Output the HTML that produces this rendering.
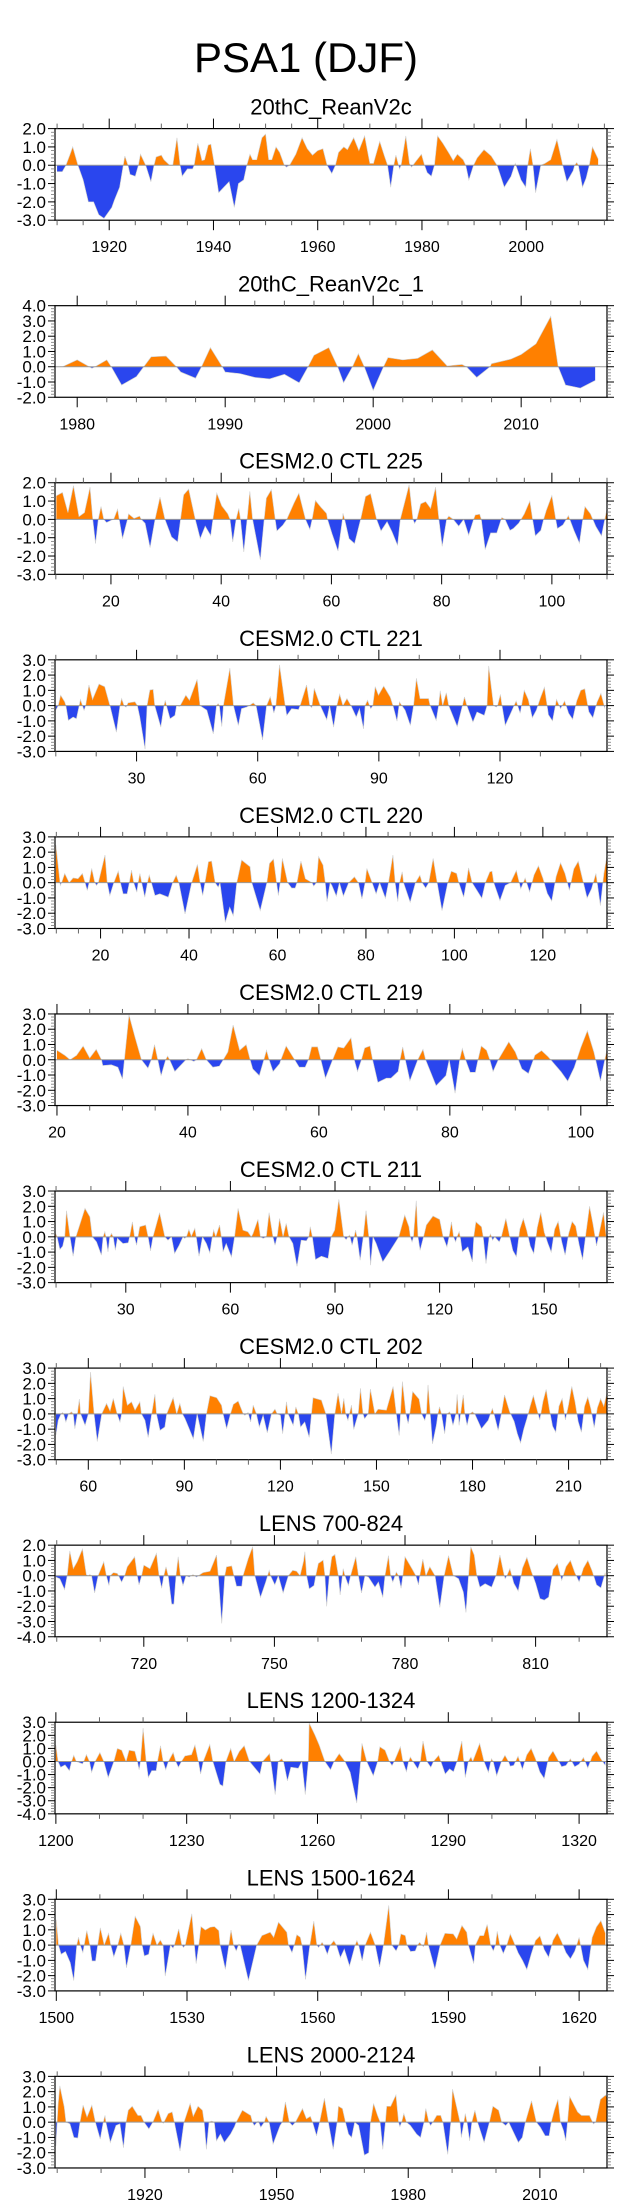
<!DOCTYPE html>
<html><head><meta charset="utf-8"><title>PSA1 (DJF)</title>
<style>
html,body{margin:0;padding:0;background:#fff;}
svg{display:block;font-family:"Liberation Sans",Arial,sans-serif;}
</style></head>
<body>
<svg id="fig" width="623" height="2209" viewBox="0 0 623 2209" xmlns="http://www.w3.org/2000/svg">
<text x="306" y="72" font-size="42" text-anchor="middle">PSA1 (DJF)</text>
</svg>
<script>
const panelTitles=["20thC_ReanV2c","20thC_ReanV2c_1","CESM2.0 CTL 225","CESM2.0 CTL 221","CESM2.0 CTL 220","CESM2.0 CTL 219","CESM2.0 CTL 211","CESM2.0 CTL 202","LENS 700-824","LENS 1200-1324","LENS 1500-1624","LENS 2000-2124"];
const xRanges=[[1909.6,2015.5],[1978.5,2015.8],[9.85,110],[9.8,146.5],[9.7,134.5],[19.7,104],[9.7,168],[49.6,222],[699.6,826.4],[1199.8,1326.4],[1499.7,1626.4],[1899.5,2025.3]];
const yRanges=[[-3,2],[-2,4],[-3,2],[-3,3],[-3,3],[-3,3],[-3,3],[-3,3],[-4,2],[-4,3],[-3,3],[-3,3]];
const xMajorSteps=[20,10,20,30,20,20,30,30,30,30,30,30];
const xMinorSteps=[5,2,5,10,5,5,10,10,10,10,10,10];

const s1=[[1910,-0.35],[1911,-0.35],[1911.7,0],[1912.5,0.6],[1913,1.0],[1914,0],[1915,-0.8],[1916,-2.0],[1917,-2.0],[1918,-2.7],[1919,-2.9],[1920.5,-2.3],[1921,-1.9],[1922,-1.2],[1922.7,0],[1923,0.5],[1923.6,0],[1924,-0.5],[1925,-0.6],[1925.6,0],[1926,0.6],[1927,0],[1928,-0.9],[1928.6,0],[1929,0.45],[1930,0.55],[1930.5,0.3],[1931.6,0],[1932.2,0],[1933,1.5],[1933.6,0],[1934,-0.6],[1935,-0.2],[1936,-0.2],[1936.3,0],[1937,1.2],[1937.8,0.25],[1938.3,0.3],[1939,1.1],[1939.5,1.15],[1940.2,0],[1941,-1.5],[1942,-1.2],[1943,-0.9],[1944,-2.3],[1944.8,-1.0],[1945.8,-0.8],[1946.4,0],[1947,0.6],[1947.5,0.3],[1948.3,0.3],[1949.3,1.5],[1950,1.7],[1950.6,0.3],[1951.2,0.3],[1952,1.0],[1952.7,0.7],[1953.6,0],[1954,-0.1],[1954.6,0],[1955.8,0.6],[1957,1.5],[1958,0.9],[1959,0.55],[1960,0.8],[1961,0.9],[1961.8,0],[1962.7,-0.45],[1963.4,0],[1964,0.7],[1965,1.0],[1965.7,0.85],[1966.9,1.5],[1967.9,0.8],[1969,1.6],[1970,0.1],[1970.7,0.1],[1971.9,1.3],[1972.8,0.5],[1973.4,0],[1974,-1.2],[1974.6,0],[1975,0.55],[1975.7,-0.2],[1976,0],[1976.9,1.6],[1977.6,0.1],[1978,-0.1],[1978.8,0.2],[1979.9,0.6],[1980.5,0],[1981,-0.4],[1981.8,-0.6],[1982.4,0],[1983,1.6],[1984,1.2],[1985.3,0.6],[1986,0.25],[1986.8,0.6],[1987.9,0.3],[1988.4,0],[1989,-0.8],[1989.9,0],[1990.6,0.4],[1991.9,0.85],[1993.3,0.5],[1994.4,0],[1995.8,-1.2],[1997.1,-0.6],[1997.9,0.1],[1999,-0.8],[1999.9,-1.2],[2000.3,0],[2000.8,0.9],[2001.3,0],[2001.8,-1.5],[2002.8,0],[2003.6,0.1],[2004.7,0.3],[2005.9,1.4],[2006.7,0.4],[2007,0],[2007.8,-0.9],[2009,-0.3],[2009.3,0],[2009.7,0.15],[2010,0],[2010.8,-1.2],[2011.5,-0.7],[2012.1,0],[2012.7,1.0],[2013.8,0.35]];
const s2=[[1979,0],[1980,0.45],[1981,-0.1],[1981.2,0],[1982,0.45],[1982.3,0],[1983,-1.2],[1984,-0.65],[1984.5,0],[1985,0.65],[1986,0.7],[1986.7,0],[1987,-0.35],[1988,-0.75],[1988.4,0],[1989,1.25],[1989.8,0],[1990,-0.35],[1991,-0.45],[1992,-0.7],[1993,-0.8],[1994,-0.5],[1995,-1.05],[1995.6,0],[1996,0.75],[1997,1.25],[1997.6,0],[1998,-1.05],[1998.6,0],[1999,0.85],[1999.4,0],[2000,-1.55],[2000.7,0],[2001,0.6],[2002,0.45],[2003,0.55],[2004,1.1],[2005,0.05],[2006,0.15],[2006.3,0],[2007,-0.7],[2007.9,0],[2008,0.2],[2009.3,0.5],[2010,0.8],[2011,1.5],[2012,3.3],[2012.5,0],[2013,-1.2],[2014,-1.4],[2015,-0.9]];
const s3=[[10.1,1.29],[11.2,1.47],[12.2,0.37],[13.2,1.84],[14.2,0.15],[15.2,0.37],[16.2,1.76],[16.7,0],[17.2,-1.32],[17.7,0],[18.2,0.7],[18.7,0],[19.2,-0.17],[20.1,-0.04],[20.5,0],[21.2,0.55],[21.5,0],[22.1,-1.05],[23,0],[23.2,0.3],[24.2,0.05],[25.2,0.18],[25.5,0],[26.2,-0.22],[27.1,-1.54],[28,0],[28.9,1.21],[29.8,0],[31,-0.96],[32.1,-1.23],[33.2,1.34],[34.1,1.65],[35.3,0],[36.2,-1.05],[37.1,-0.37],[38.1,-0.88],[38.5,0],[39.2,1.43],[40.1,0.74],[41.2,0.3],[41.6,0],[42.1,-1.23],[42.7,0],[43.2,0.6],[43.5,0],[44.1,-1.78],[44.7,0],[45.2,1.53],[45.7,0],[47.1,-2.2],[47.8,0],[48.2,1.16],[49.1,1.62],[49.8,0],[50.1,-0.63],[51.2,-0.31],[51.9,0],[53.2,0.88],[54.1,1.43],[55.3,0],[56.1,-0.55],[56.5,0],[57.1,1.03],[58.1,0.66],[59.1,0.33],[59.3,0],[60.1,-0.77],[61.2,-1.73],[62,0],[62.1,0.33],[62.4,0],[63.2,-1.05],[64.2,-1.32],[65.3,0],[66.2,1.25],[67.1,1.4],[68.2,0],[69,-0.63],[70.1,-0.13],[71,-0.68],[72,-1.42],[72.5,0],[74.1,1.89],[74.8,0],[75.1,-0.22],[75.5,0],[76.2,0.85],[77.1,0.97],[78,0.6],[78.9,1.76],[79.5,0],[80.1,-1.47],[80.9,0],[81.3,0.18],[82.1,0],[83.1,-0.37],[84,0],[84.9,-0.86],[85.8,0],[86.1,0.24],[86.9,0.28],[87.2,0],[87.9,-1.65],[88.9,-0.74],[90,-0.74],[90.9,0.1],[91.5,0],[92.4,-0.6],[93,-0.5],[94,-0.2],[95,0.3],[96,1.0],[96.5,0],[97,-0.9],[98,-0.6],[98.5,0],[99,0.5],[100,1.3],[100.7,0],[101,-0.5],[102,-0.3],[103,0.2],[104,-0.6],[105,-1.3],[105.6,0],[106,0.7],[107,0.3],[108,-0.4],[109,-0.9],[110,0.6]];
const s4=[[10,-0.3],[10.6,0],[11.2,0.68],[12.2,0.25],[12.5,0],[13.1,-0.97],[14.3,-0.75],[15.1,-0.86],[15.8,0],[16.1,0.4],[16.6,0],[17,-0.3],[17.4,0],[18.2,1.35],[19.1,0.4],[20.7,1.41],[22.1,1.24],[23.4,0],[25,-1.74],[25.9,0],[26.3,0.46],[26.9,0],[27.4,-0.1],[27.9,0.18],[29.6,0.25],[30.2,0],[30.8,-0.75],[32.1,-2.85],[32.6,0],[33.3,1.02],[34.1,1.06],[34.5,0],[36,-1.41],[36.8,0],[37.1,0.35],[37.4,0],[38.3,-0.86],[39.5,-0.64],[39.9,0],[40.7,-0.05],[42.2,0.68],[43.1,0.35],[45,1.72],[45.7,0],[47.4,-0.3],[49,-1.85],[49.8,0],[50.2,0.13],[50.5,0],[51.1,-1.37],[51.5,0],[53.1,2.45],[54,0],[55.2,-1.3],[56,-0.2],[57.3,-0.09],[57.9,0],[58.9,0.18],[59.6,0],[61.2,-2.25],[62.2,0],[63.1,0.57],[63.6,0],[64,-0.49],[64.5,0],[65.4,2.67],[66.8,0],[67.2,-0.64],[68.4,-0.2],[70.1,-0.26],[70.5,0],[72.1,1.35],[72.9,0],[73.4,-0.13],[74,1.13],[75.5,0],[77.1,-0.93],[77.8,0],[78.8,-1.41],[79.6,0],[80.3,0.75],[81.1,0],[82.1,0.46],[83.1,0],[84.4,-0.75],[85.2,-0.2],[86.2,-1.52],[86.6,0],[87.2,0.35],[87.7,0],[88,-0.2],[88.5,0],[89.1,1.24],[89.9,0.68],[91.2,1.28],[92.8,0.57],[93.5,0],[94.5,-1.02],[95.1,0.24],[95.7,0],[96.5,-0.3],[97.8,-1.3],[98.6,0],[99.3,1.79],[100.2,0.46],[102.3,0.46],[102.7,0],[104.2,-0.97],[104.8,0],[105.2,0.97],[105.8,0],[106.7,0.84],[107.3,0],[109.4,-1.37],[110.7,0],[111.2,0.57],[111.8,0],[113.3,-1.08],[114.3,-0.42],[116.1,-0.64],[116.8,0],[117.2,2.6],[118.4,0],[119.1,-0.09],[119.4,0],[120.1,0.73],[120.5,0],[121.3,-1.3],[122.6,-0.53],[124,0.3],[125,-0.5],[126,1.0],[127,0.4],[128,-0.8],[129,-0.3],[130,0.5],[131,1.2],[132,-0.6],[133,-1.0],[134,0.4],[135,-0.2],[136,0.3],[137,-0.5],[138,-0.9],[139,0.3],[140,1.0],[141,1.1],[142,-0.4],[143,-0.8],[144,0.2],[145,0.8],[146,-0.2]];
const s5=[[9.9,2.47],[10.4,1.15],[10.9,-0.18],[11.2,0],[11.9,0.6],[12.9,0],[13.8,0.31],[14.9,0.26],[15.9,0.6],[16.5,0],[17,-0.51],[17.4,0],[18,0.93],[18.7,0],[19.1,-0.18],[19.5,0],[21,1.81],[21.5,0],[22.1,-0.84],[23,0],[24,0.75],[24.5,0],[25.1,-0.73],[26,-0.73],[26.5,0],[27,0.82],[27.5,0],[28.2,-0.62],[28.5,0],[28.9,0.6],[29.3,0],[30,-0.95],[30.6,0],[31,0.49],[31.5,0],[32.3,-0.84],[33.4,-0.73],[35.3,-0.95],[36.3,0],[37.1,0.49],[37.7,0],[39.1,-2.05],[40.6,0],[41.9,1.19],[42.5,0],[43.1,-0.84],[43.6,0],[44.4,1.37],[45.1,1.41],[45.9,0],[46.6,-0.29],[47,0],[48.2,-2.6],[49.2,-1.61],[50,-2.16],[50.8,0],[51.9,1.48],[53.8,1.04],[54.2,0],[56.1,-1.83],[57.6,0],[58.2,1.26],[59.1,1.55],[59.8,0],[60.2,-0.84],[60.6,0],[61.1,1.59],[62.3,0],[63.2,-0.35],[64,-0.35],[64.4,0],[65.3,1.41],[66.3,0.26],[67.8,0],[68.2,-0.22],[68.8,0],[69.3,1.7],[70.3,1.15],[70.8,0],[71.2,-1.24],[71.9,0],[72.3,-0.18],[73.3,-0.88],[74,0],[74.9,-0.88],[76.1,0],[77.4,0.38],[78.3,0],[79.1,-1.06],[79.8,0],[80.2,0.93],[81.4,0],[82.3,-0.73],[83.1,0],[84.4,-1.02],[85.1,0],[86.1,1.81],[86.6,0],[87.2,-1.24],[87.6,0],[88.2,0.71],[88.5,0],[90,-1.28],[91.2,0],[92.2,0.49],[92.7,0],[93.5,-0.35],[94.2,0],[95.2,1.59],[96.1,0],[97.2,-1.83],[98.5,0],[99.3,0.75],[100.5,0.6],[101,0],[102.1,-0.95],[102.7,0],[103.2,0.97],[104,0],[105.1,-0.51],[106.2,-1.02],[107,0],[108,0.71],[108.5,0.75],[108.9,0],[110.3,-1.17],[111.5,-0.18],[112.7,0],[114,0.8],[115,-0.4],[116,0.3],[117,-0.6],[118,0.5],[119,1.1],[120,0.3],[121,-0.7],[122,-1.2],[123,0.4],[124,1.3],[125,0.6],[126,-0.5],[127,0.9],[128,1.4],[129,0.2],[130,-1.0],[131,-0.4],[132,0.6],[133,-1.5],[133.8,0.6],[134.5,1.8]];
const s6=[[20,0.62],[21.2,0.29],[22,0],[23,0.29],[24,0.9],[25,0.11],[26,0.68],[26.8,0],[27,-0.38],[28.3,-0.33],[29.3,-0.49],[30,-1.26],[30.3,0],[31,2.94],[31.9,1.5],[32.9,0],[33.9,-0.55],[34.4,0],[34.9,0.99],[35.4,0],[35.9,-1.04],[36.6,0],[36.9,0.24],[37.2,0],[38,-0.77],[39.7,0],[40,0.07],[40.9,-0.11],[41.3,0],[42.1,0.73],[42.8,0],[43.8,-0.49],[44.8,-0.42],[45.4,0],[46.1,0.51],[46.9,2.27],[47.9,0.62],[48.9,0.99],[49.5,0],[49.9,-0.6],[50.9,-1.04],[51.6,0],[52,0.62],[52.4,0],[53,-0.77],[54,-0.26],[54.2,0],[55,0.9],[56.3,0],[57,-0.49],[57.9,-0.49],[58.4,0],[58.9,0.84],[59.8,0.84],[60.3,0],[61,-1.21],[62.1,0],[62.9,0.84],[63.8,0.77],[64.9,1.43],[65.4,0],[65.9,-0.77],[66.5,0],[67,0.77],[67.8,0.9],[68.2,0],[69,-1.48],[70.3,-1.21],[71,-1.21],[72.1,-0.77],[72.4,0],[72.8,0.84],[73.2,0],[73.9,-1.37],[75.1,0],[75.9,0.68],[76.3,0],[77.9,-1.7],[79.4,-1.04],[79.9,0],[80.8,-2.19],[81.5,0],[81.9,0.73],[82.4,0],[83.1,-0.82],[83.9,-0.82],[84.3,0],[84.8,0.9],[85.6,0.62],[86.1,0],[86.6,-0.77],[87.4,0],[89,1.17],[90,0.5],[91,-0.6],[92,-0.9],[93,0.3],[94,0.6],[95,0.2],[96,-0.3],[97,-0.8],[98,-1.4],[99,-0.5],[100,0.8],[101,1.9],[102,0.5],[103,-1.4],[104,0.7]];
const s7=[[9.9,0.22],[10.3,0],[11.1,-0.83],[11.9,-0.61],[12.5,0],[13,1.71],[14,0],[14.9,-1.27],[15.7,0],[18.3,1.86],[19.7,1.31],[20.4,0],[21.6,-0.33],[23,-1.2],[23.5,0],[24,0.33],[24.3,0],[24.9,-0.98],[25.4,0],[25.9,0.22],[26.4,0],[27,-0.88],[27.6,-0.1],[29.2,-0.44],[30.7,-0.39],[31.1,0],[31.9,0.98],[32.5,0],[33.1,-0.55],[33.5,0],[34,0.66],[35.7,0.77],[36.4,0],[37.1,-0.92],[37.8,0],[39.7,1.58],[41.2,0],[42.1,-0.22],[43.1,0],[44,-1.09],[45.3,-0.55],[46.4,0],[46.9,-0.1],[47.4,0],[48.1,0.48],[48.8,0.04],[49.8,0.55],[50.2,0],[51,-1.27],[52,0],[53.1,-0.44],[54.1,-1.05],[54.8,0],[55.2,0.44],[55.8,0],[56.9,0.77],[57.4,0],[57.9,-0.98],[58.8,-0.44],[60.3,-1.31],[61.2,0],[62.2,1.86],[63.6,0.44],[65,0.33],[66,0],[66.5,0.22],[67.9,1.14],[68.6,0],[69.4,-0.1],[70.3,0],[71.1,1.58],[72.2,0],[72.8,-0.55],[73.4,0],[74.1,1.2],[75.1,0],[76,0.88],[76.8,0],[77.9,-0.44],[79.1,-1.93],[80.3,-0.22],[81.8,-0.26],[82.5,0],[82.9,0.66],[83.5,0],[84.4,-1.49],[86.1,-1.27],[88,-1.42],[88.9,0],[89.9,0.44],[91.1,2.45],[92.5,0],[93.2,-0.18],[93.7,0],[94.2,0.11],[94.9,-0.55],[95.5,0],[95.9,0.44],[96.3,0],[97.2,-1.53],[98.1,0],[98.9,1.71],[99.7,0],[100.2,-1.86],[100.9,0],[101.8,-0.44],[103.7,-1.64],[105.6,-0.98],[107.4,-0.33],[108.3,0],[110,1.42],[111.2,0.66],[111.6,0],[112.1,-0.33],[112.5,0],[113.3,2.36],[113.8,0],[114.4,-0.88],[115.4,0],[116.2,0.77],[118.1,1.36],[120,1.14],[121,0],[122.1,-0.66],[122.7,0],[123.4,0.98],[124,0],[124.6,-0.33],[125,0],[125.6,0.33],[125.9,0],[126.5,-0.98],[128.1,-0.66],[129.4,-1.64],[129.8,0],[130.4,0.98],[132,0.66],[132.5,0],[133.3,-1.75],[134.2,0],[134.6,0.18],[135.2,-0.22],[135.8,0],[137.1,-0.33],[137.7,0],[139,1.2],[140,0.11],[141,-0.9],[142,-1.3],[143,0.5],[144,1.2],[145,0.4],[146,-0.6],[147,-1.1],[148,0.6],[149,1.6],[150,0.3],[151,-0.4],[152,-1.0],[153,0.5],[154,1.0],[155,-0.3],[156,-1.2],[157,0.2],[158,1.0],[159,0.7],[160,-0.5],[161,-1.5],[162,0.3],[163,2.0],[164,0.8],[165,-0.6],[166,0.5],[167,1.6],[168,-0.4]];
const s8=[[49.9,-1.37],[50.6,-0.42],[51.5,0],[52,0.09],[52.4,-0.09],[53,-0.53],[53.8,0],[54.8,0.13],[55.3,0],[55.8,-0.97],[56.6,0],[57.2,0.97],[57.6,0],[59,-0.75],[60,0],[60.7,2.74],[61.8,0],[62.8,-1.81],[64.2,0],[65.7,0.68],[66.8,0.18],[67.8,1.01],[69,0],[69.9,-0.53],[70.4,0],[70.9,1.79],[72.2,0.57],[73.5,0.79],[74.6,0.24],[76.1,0.79],[76.6,0],[77.7,-0.42],[78.7,-1.54],[79.8,0],[80.8,1.28],[81.3,0],[82.4,-1.08],[83.9,-0.86],[84.5,0],[86.5,1.06],[87.6,0],[88.6,0.68],[89.4,0],[90.2,-0.31],[92.8,-1.63],[94,0],[95.9,-1.81],[96.9,0],[98,1.19],[100.1,1.06],[101.6,0.57],[102.1,0],[103.2,-0.97],[104.4,0],[105.3,0.62],[106.8,0.84],[108.4,0],[108.9,-0.09],[109.4,0],[109.9,0.09],[110.7,-0.53],[111.5,0.57],[112.5,0],[113.4,-0.86],[114.6,-0.09],[115.9,-1.24],[117.2,0],[118.3,0.31],[119,0],[120,-0.09],[120.7,-1.3],[121.9,0.79],[122.4,0],[124,-0.75],[124.8,0.46],[125.6,0],[126.3,-0.86],[127.6,-0.53],[129,-1.54],[129.7,0],[130.2,1.06],[132.8,0.9],[134.2,0],[135.9,-2.63],[137,0],[138,1.35],[139.1,0],[139.8,1.01],[140.4,0],[141.1,-0.42],[142.2,0.57],[142.9,-1.02],[144.3,0],[145,1.68],[145.8,0],[146.3,-0.31],[147.4,0],[148.1,1.63],[149.5,0],[150.5,0.31],[153.1,0.24],[155.2,1.79],[156.2,0],[157.1,-1.41],[157.5,0],[158.1,2.12],[159.2,0],[159.9,-0.64],[160.4,0],[161.3,1.46],[163.3,0.97],[164.1,0],[165.1,-0.42],[165.6,0],[166.1,1.9],[166.8,0],[167.5,-1.96],[168.7,-0.75],[169.2,0],[169.7,0.46],[170.3,0],[171.3,-1.3],[172,0],[172.9,0.13],[173.9,-0.75],[174.8,0],[175.2,1.28],[175.8,-0.75],[176.5,0.35],[177.1,1.24],[177.6,0],[178.3,-0.75],[179.1,0],[180,0.13],[180.7,0],[182.8,-0.97],[184.9,-0.42],[185.6,0],[186.2,0.35],[186.7,0],[188,-1.08],[189,0],[190,1.24],[191.6,0.13],[193,-0.5],[194,-1.3],[195,-1.9],[196,-1.0],[197,-0.3],[198,0.5],[199,1.2],[200,0.4],[201,-0.4],[202,0.8],[203,1.6],[204,0.3],[205,-0.8],[206,-1.2],[207,0.5],[208,1.0],[209,-0.4],[210,0.6],[211,1.8],[212,0.8],[213,-0.5],[214,-1.2],[215,0.5],[216,1.1],[217,0.3],[218,-0.9],[219,0.4],[220,1.0],[221,0.5],[222,1.4]];
const s9=[[699.8,-0.09],[700.7,-0.2],[701.8,-0.91],[702.4,0],[703,1.62],[703.8,0.46],[704.7,0.91],[705.9,1.75],[706.8,0.07],[707.2,0],[707.6,0.07],[708,0],[708.7,-1.13],[709.5,0],[710.8,0.91],[711.4,0],[712,-0.64],[712.3,0],[713,0.2],[713.9,0.15],[714.2,0],[714.9,-0.42],[715.6,0],[716.2,0.58],[717.9,1.24],[718.5,0],[718.9,-0.6],[719.5,0],[720,0.69],[721.4,0.46],[722.9,1.46],[723.5,0],[724.1,-0.82],[724.6,0],[725.1,0.58],[725.6,0],[726.4,-1.86],[726.9,-1.86],[727.4,0],[727.9,1.24],[728.4,0],[729,-0.64],[729.7,0],[730.4,-0.09],[731.3,0.07],[732.1,-0.09],[732.9,0.07],[733.6,0.2],[735.2,0.29],[736.7,1.35],[737.1,0],[737.9,-3.12],[738.6,0],[739,0.58],[740.2,0.64],[740.7,0],[741.3,-0.69],[742.5,-0.69],[742.8,0],[744,1.13],[745,1.9],[745.5,0],[746.8,-1.42],[748,-0.42],[748.8,0.35],[749.1,0],[750.1,-0.6],[750.9,0],[752,-1.13],[753.2,0],[754.2,0.35],[755.1,0.29],[755.9,0],[756.7,0.95],[757,1.57],[757.4,0],[758,-0.86],[759.1,-0.64],[759.5,0],[760.1,0.8],[761.2,1.02],[761.6,0],[762,-2.01],[762.6,0],[763.2,1.24],[763.9,1.39],[764.7,0],[765.1,-1.26],[765.8,0.46],[766.2,0],[767,-0.64],[767.5,0],[768.7,1.24],[769.3,0],[770,-1.13],[770.8,0],[771.6,-0.09],[773.1,-0.75],[773.9,-0.42],[774.9,-1.42],[775.4,0],[776.2,1.31],[776.7,0],[777.2,-0.42],[778,0.24],[778.5,0],[779.1,-0.82],[779.5,0],[780,1.24],[781.6,0.46],[782.5,0],[783.1,-0.6],[783.4,0],[784.1,1.08],[784.8,0],[785.7,0.58],[786.9,0],[788,-2.08],[789,0],[790,1.31],[791.1,0],[792.3,-0.2],[793.4,-1.08],[794,-2.41],[794.6,0],[795.1,1.9],[795.9,1.35],[796.5,0],[797.2,-0.75],[798.4,-0.53],[799.9,-0.75],[800.9,0],[801.8,1.35],[802.8,0],[803,-0.2],[803.4,0],[804.1,0.46],[805,-0.5],[806,-1.0],[807,0.5],[808,1.2],[809,0.3],[810,-0.5],[811,-1.5],[812,-1.6],[813,-1.4],[814,0.4],[815,0.8],[816,-0.3],[817,0.6],[818,1.0],[819,0.2],[820,-0.4],[821,0.5],[822,1.0],[823,0.3],[824,-0.6],[825,-0.8],[826,0.2]];
const s10=[[1200,1.25],[1200.5,0],[1201.1,-0.44],[1202.1,-0.26],[1203.1,-0.7],[1203.6,0],[1204.1,0.47],[1204.7,0],[1205.5,-0.1],[1206.1,-0.18],[1206.4,0],[1207,0.52],[1207.7,0],[1208.2,-0.83],[1209,0],[1210.1,0.68],[1211,0],[1212,-1.22],[1213.3,0],[1214.1,0.99],[1215.1,0.86],[1216.1,0],[1216.8,0.86],[1218.1,0.78],[1218.7,0],[1219.1,-0.63],[1219.4,0],[1220,2.55],[1220.7,0],[1221.2,-1.22],[1222,-0.7],[1223,-0.7],[1223.3,0],[1224,1.2],[1224.6,0],[1225.2,-0.63],[1225.8,0],[1226.9,0.68],[1227.5,0],[1228.1,-0.44],[1228.8,0],[1229.6,0.42],[1231.1,0.52],[1231.9,1.25],[1232.7,0],[1233.2,-0.96],[1233.8,0],[1235.3,1.3],[1236,0],[1237.6,-1.74],[1238.3,-1.88],[1239,0],[1240.1,0.99],[1240.9,0],[1242.1,0.78],[1243.2,1.2],[1244.4,0],[1246.8,-0.96],[1247.4,0],[1249,0.6],[1249.3,0],[1250.3,-2.53],[1251,0],[1251.8,0.21],[1252.2,0],[1253.1,-1.48],[1253.9,-0.44],[1255.6,-0.52],[1256.4,0],[1257.2,-2.53],[1257.9,0],[1258.1,2.94],[1259.4,2.03],[1260.4,1.25],[1261.7,0],[1263,-0.63],[1263.8,0],[1265,0.6],[1266.3,0],[1267.5,-0.83],[1269,-3.18],[1269.9,0],[1270.2,1.38],[1271.3,0],[1272.8,-1.09],[1273.8,0],[1274.3,1.12],[1275.5,0.86],[1276.5,0],[1277.1,-0.31],[1277.6,0],[1279,1.12],[1279.6,0],[1280.4,-0.78],[1280.9,0],[1281.3,0.34],[1281.9,0],[1283,-0.57],[1283.6,0],[1284.2,1.56],[1285.1,0],[1286,-0.44],[1286.6,0],[1287.8,0.47],[1288.3,0],[1289.3,-0.96],[1290.3,-0.57],[1291.2,-0.78],[1292,0],[1293.1,1.56],[1293.9,-1.22],[1294.6,0],[1295.2,0.34],[1295.6,0],[1297.2,1.38],[1298.2,0],[1299.2,-0.83],[1299.9,0.21],[1300.3,0],[1301.1,-1.09],[1302.2,0],[1303,0.47],[1303.8,0],[1304.2,-0.36],[1305,-0.3],[1306,0.4],[1307,-0.6],[1308,0.5],[1309,1.0],[1310,0.2],[1311,-0.8],[1312,-1.3],[1313,0.3],[1314,0.8],[1315,0.2],[1316,-0.4],[1317,-0.3],[1318,0.2],[1319,-0.4],[1320,-0.2],[1321,0.3],[1322,-0.5],[1323,0.4],[1324,0.8],[1325,0.2],[1326,-0.3]];
const s11=[[1500,1.66],[1500.5,0],[1501.1,-0.6],[1502.1,-0.42],[1503.2,-1.15],[1504,-2.32],[1504.7,0],[1505.1,0.51],[1505.5,0],[1506.1,-0.49],[1506.4,0],[1507,0.95],[1507.7,0],[1508.2,-1.04],[1509,-1.04],[1509.5,0],[1510.1,1.13],[1511,0],[1512,0.77],[1512.5,0],[1513.2,-0.77],[1514.1,0],[1514.8,0.77],[1515.5,0],[1516.1,-1.48],[1517.1,0],[1518.1,1.88],[1519.3,1.21],[1519.7,0],[1520.2,-0.71],[1521.2,-0.6],[1521.6,0],[1522.2,0.77],[1523.1,0],[1523.9,0.33],[1524.5,0],[1525,-2.03],[1526.2,0],[1526.8,-0.2],[1527.1,0],[1528.1,1.06],[1528.8,0],[1529.2,-0.15],[1529.6,0],[1531.1,2.05],[1531.7,0],[1532.1,-1.21],[1532.7,0],[1533.2,1.21],[1534.2,0.99],[1535.3,1.17],[1536.3,1.21],[1537.3,0.95],[1537.6,0],[1538.8,-1.59],[1540.1,0.99],[1540.7,0],[1541.3,-0.38],[1541.9,0.07],[1542.2,0],[1544.1,-2.32],[1546,0],[1547.2,0.62],[1549.1,0.84],[1549.9,0.51],[1551,1.5],[1552.9,0.84],[1553.3,0],[1554.1,-0.49],[1554.6,0],[1555.2,0.68],[1556,0.51],[1556.4,0],[1557.2,-2.25],[1558.2,0],[1559.1,1.57],[1559.8,0],[1560.2,-0.15],[1560.6,0],[1561,0.18],[1561.4,0],[1562.2,-0.6],[1562.9,0],[1563.7,0.29],[1564.3,0],[1565.2,-0.82],[1566.1,-0.26],[1567.3,-1.37],[1568.6,0],[1569,0.29],[1569.4,0],[1570.2,-1.04],[1570.9,0],[1572.1,0.84],[1573.2,0],[1574.2,-1.43],[1575.1,0],[1576.3,2.6],[1577,0],[1578,-0.38],[1578.6,0],[1579.1,0.73],[1580.1,0.62],[1580.5,0],[1581.3,-0.42],[1582.4,-0.38],[1582.9,0],[1583.4,0.18],[1583.9,0],[1584.3,-0.1],[1585,0.84],[1585.4,0],[1586.9,-1.59],[1588.1,0],[1589.2,0.77],[1591.1,0.73],[1591.9,0.4],[1593.1,1.28],[1594.2,0.84],[1594.6,0],[1595.8,-1.21],[1596.2,0],[1597.2,0.62],[1598.1,0.62],[1598.9,1.35],[1599.7,0],[1600.3,-0.38],[1600.8,0],[1601.2,0.9],[1601.8,0],[1602.6,-0.55],[1603.4,0],[1604.2,0.73],[1605,0.2],[1606,-0.5],[1607,-1.0],[1608,-1.6],[1609,-0.6],[1610,0.3],[1611,0.6],[1612,-0.3],[1613,-0.8],[1614,0.3],[1615,0.8],[1616,0.2],[1617,-0.5],[1618,-0.9],[1619,-0.4],[1620,0.5],[1621,-1.0],[1622,-1.6],[1623,0.5],[1624,1.2],[1625,1.6],[1626,0.8]];
const s12=[[1899.7,-1.56],[1900.2,1.11],[1900.6,2.38],[1901.6,1.0],[1902,0],[1902.9,-0.11],[1903.8,-1.0],[1904.7,-1.04],[1905.2,0],[1905.9,1.11],[1906.8,0.33],[1907.9,1.11],[1908.7,0],[1909.8,-1.11],[1910.5,0],[1910.9,0.44],[1911.1,0],[1912.1,-1.33],[1913.4,-0.22],[1914.3,-0.11],[1915.1,-1.67],[1915.7,0],[1916.2,0.78],[1917.1,1.04],[1918.4,0.44],[1919.1,0.44],[1919.8,0],[1920.9,-0.44],[1921.8,0],[1923,0.82],[1923.9,0],[1924.2,-0.07],[1925.3,0.56],[1926.2,0.67],[1926.7,0],[1928,-1.89],[1928.9,0],[1930.3,1.22],[1931,0.38],[1932.1,1.04],[1933.1,0.78],[1933.5,0],[1934,-1.78],[1934.6,0],[1935.2,0.07],[1935.8,0],[1936.3,-1.22],[1937.2,-0.78],[1938.1,-1.33],[1939.5,-0.78],[1940.4,-0.29],[1940.8,0],[1942.2,0.78],[1944.1,0.44],[1944.5,0],[1944.9,-0.22],[1945.8,0.07],[1946.4,-0.33],[1947.2,0],[1947.6,0.38],[1948.3,0],[1949.2,-1.44],[1950.8,-0.22],[1951.3,0],[1952,1.33],[1952.9,0],[1953.6,-0.22],[1954.3,0],[1955.9,0.89],[1956.8,0.22],[1957.7,0.38],[1958.2,0],[1959.1,-0.89],[1959.8,0],[1960.9,1.56],[1961.8,0],[1962.9,-1.78],[1963.8,0],[1964.1,1.04],[1965,0.89],[1965.7,0],[1966.4,-0.78],[1967.1,-1.0],[1967.8,0],[1968.7,-0.22],[1970,-2.16],[1971,-2.0],[1971.4,0],[1972.1,1.22],[1973,0.44],[1973.6,0],[1974.2,-1.78],[1974.8,0],[1975.1,1.04],[1976,1.04],[1977.2,1.78],[1977.8,0],[1978.1,-0.29],[1978.5,0],[1979,0.56],[1979.6,0],[1980.5,-0.22],[1981.9,-0.78],[1982.8,-1.0],[1983.6,0],[1984,0.89],[1984.7,0],[1985.1,-0.22],[1985.6,0],[1986.5,0.44],[1987.4,0.44],[1987.9,0],[1989,-2.11],[1989.7,0],[1990.1,2.16],[1991.2,0.78],[1991.8,0],[1992.1,-1.0],[1992.7,0],[1993,0.56],[1993.4,0],[1994,-1.22],[1994.5,0],[1995.2,0.78],[1995.8,0],[1997.3,-1.33],[1998.5,0],[1999.3,1.04],[2000.6,0.78],[2001.3,0],[2002.2,-0.22],[2002.9,0],[2005.1,-1.33],[2006,-1.0],[2006.7,0],[2008.1,1.4],[2009.2,0],[2010.1,-0.33],[2011.2,-0.89],[2012.1,-0.89],[2012.6,0],[2013.3,0.78],[2014.1,1.49],[2014.7,0],[2015.4,-0.56],[2015.9,-1.22],[2016.3,0],[2016.8,1.67],[2018.6,0.67],[2019.5,0.44],[2021.3,0.44],[2022.2,-0.11],[2022.7,0],[2023.8,1.49],[2025,1.78],[2025.3,1.6]];
const seriesList=[s1,s2,s3,s4,s5,s6,s7,s8,s9,s10,s11,s12];

const NS="http://www.w3.org/2000/svg";
const svg=document.getElementById('fig');
function mk(tag,attrs,parent){const e=document.createElementNS(NS,tag);for(const k in attrs)e.setAttribute(k,attrs[k]);(parent||svg).appendChild(e);return e;}
const L=55,R=607,W=R-L,H=91.6,TOP0=128.6,GAP=177.07;
const ORANGE="#ff8000",BLUE="#2a46ee";

for(let i=0;i<12;i++){
  const top=TOP0+i*GAP,bot=top+H;
  const [x0,x1]=xRanges[i],[y0,y1]=yRanges[i];
  const sx=t=>L+(t-x0)/(x1-x0)*W;
  const sy=v=>top+(y1-v)/(y1-y0)*H;
  const g=mk('g',{});
  
  
  const title=mk('text',{x:(L+R)/2,y:top-14,'font-size':22,'text-anchor':'middle'},g);
  title.textContent=panelTitles[i];
  
  
  const z=sy(0);
  const clipA=mk('clipPath',{id:'ca'+i},g);mk('rect',{x:L,y:top,width:W,height:z-top},clipA);
  const clipB=mk('clipPath',{id:'cb'+i},g);mk('rect',{x:L,y:z,width:W,height:bot-z},clipB);
  const s=seriesList[i];
  let d='M'+sx(s[0][0]).toFixed(2)+','+z.toFixed(2);
  let line='';
  s.forEach((p,k)=>{const X=sx(p[0]).toFixed(2),Y=sy(p[1]).toFixed(2);d+=' L'+X+','+Y;line+=(k?' L':'M')+X+','+Y;});
  d+=' L'+sx(s[s.length-1][0]).toFixed(2)+','+z.toFixed(2)+' Z';
  const pos=mk('path',{d:d,fill:ORANGE,'clip-path':'url(#ca'+i+')'},g);
  
  
  const neg=mk('path',{d:d,fill:BLUE,'clip-path':'url(#cb'+i+')'},g);
  
  
  const ln=mk('path',{d:line,fill:'none',stroke:'#d0d0d0','stroke-width':0.6},g);
  
  
  const zl=mk('line',{x1:L,x2:R,y1:z,y2:z,stroke:'#999','stroke-width':1},g);
  
  
  const box=mk('rect',{x:L,y:top,width:W,height:H,fill:'none',stroke:'#000','stroke-width':1.2},g);
  
  
  const mn=xMinorSteps[i],mj=xMajorSteps[i];
  for(let t=Math.ceil(x0/mn)*mn;t<=x1+1e-9;t+=mn){
    const X=sx(t),major=Math.abs(t/mj-Math.round(t/mj))<1e-6,len=major?10:5;
    mk('line',{x1:X,x2:X,y1:bot,y2:bot+len,stroke:major?'#000':'#666','stroke-width':1},g);
    mk('line',{x1:X,x2:X,y1:top,y2:top-len,stroke:major?'#000':'#666','stroke-width':1},g);
    if(major){
      const lb=mk('text',{x:X,y:bot+32,'font-size':16,'text-anchor':'middle'},g);
      lb.textContent=String(Math.round(t));
      
      
    }
  }
  for(let k=Math.round(y0*5);k<=Math.round(y1*5);k++){
    const v=k/5,Y=sy(v),major=(k%5===0),len=major?7:4;
    mk('line',{x1:L,x2:L-len,y1:Y,y2:Y,stroke:major?'#000':'#777','stroke-width':major?1:0.8},g);
    mk('line',{x1:R,x2:R+len,y1:Y,y2:Y,stroke:major?'#000':'#777','stroke-width':major?1:0.8},g);
    if(major){
      const lb=mk('text',{x:46,y:Y+6,'font-size':17,'text-anchor':'end'},g);
      lb.textContent=v.toFixed(1);
      
      
    }
  }
}
</script>
</body></html>
